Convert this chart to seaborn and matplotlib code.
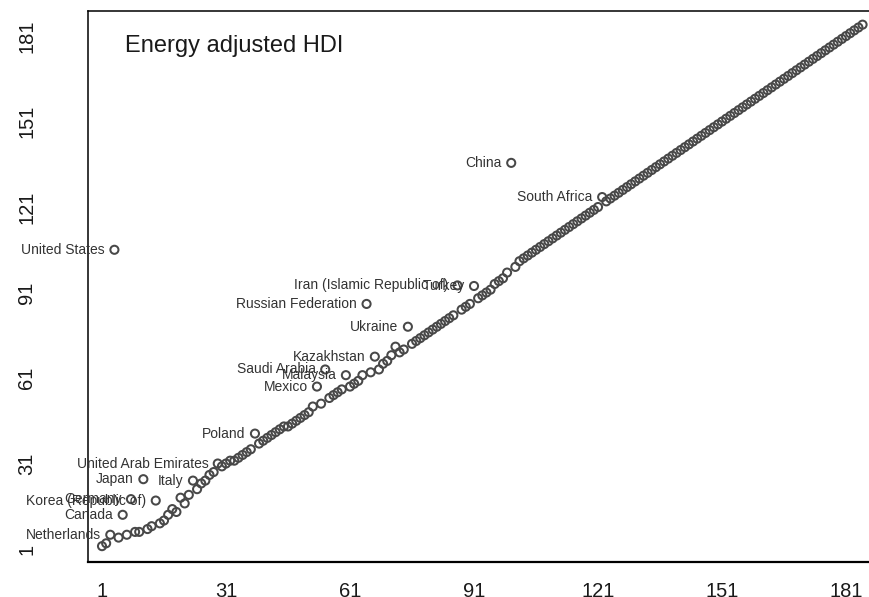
import matplotlib
matplotlib.use("Agg")
import matplotlib.pyplot as plt
import seaborn as sns
import pandas as pd

# HDI rank (x) against energy-adjusted HDI rank (y), unlabelled countries
bulk_hdi_rank = [
    1, 2, 5, 7, 9, 10, 12, 13, 15, 16, 17, 18, 19, 20, 21, 22, 24, 25, 26, 27,
    28, 30, 31, 32, 33, 34, 35, 36, 37, 39, 40, 41, 42, 43, 44, 45, 46, 47, 48,
    49, 50, 51, 52, 54, 56, 57, 58, 59, 61, 62, 63, 64, 66, 68, 69, 70, 71, 72,
    73, 74, 76, 77, 78, 79, 80, 81, 82, 83, 84, 85, 86, 88, 89, 90, 92, 93, 94,
    95, 96, 97, 98, 99, 101, 102,
    103, 104, 105, 106, 107, 108, 109, 110, 111, 112, 113, 114, 115, 116, 117,
    118, 119, 120, 121,
    123, 124, 125, 126, 127, 128, 129, 130, 131, 132, 133, 134, 135, 136, 137,
    138, 139, 140, 141, 142, 143, 144, 145, 146, 147, 148, 149, 150, 151, 152,
    153, 154, 155, 156, 157, 158, 159, 160, 161, 162, 163, 164, 165, 166, 167,
    168, 169, 170, 171, 172, 173, 174, 175, 176, 177, 178, 179, 180, 181, 182,
    183, 184, 185,
]
bulk_energy_rank = [
    2, 3, 5, 6, 7, 7, 8, 9, 10, 11, 13, 15, 14, 19, 17, 20, 22, 24, 25, 27,
    28, 30, 31, 32, 32, 33, 34, 35, 36, 38, 39, 40, 41, 42, 43, 44, 44, 45, 46,
    47, 48, 49, 51, 52, 54, 55, 56, 57, 58, 59, 60, 62, 63, 64, 66, 67, 69, 72,
    70, 71, 73, 74, 75, 76, 77, 78, 79, 80, 81, 82, 83, 85, 86, 87, 89, 90, 91,
    92, 94, 95, 96, 98, 100, 102,
    103, 104, 105, 106, 107, 108, 109, 110, 111, 112, 113, 114, 115, 116, 117,
    118, 119, 120, 121,
    123, 124, 125, 126, 127, 128, 129, 130, 131, 132, 133, 134, 135, 136, 137,
    138, 139, 140, 141, 142, 143, 144, 145, 146, 147, 148, 149, 150, 151, 152,
    153, 154, 155, 156, 157, 158, 159, 160, 161, 162, 163, 164, 165, 166, 167,
    168, 169, 170, 171, 172, 173, 174, 175, 176, 177, 178, 179, 180, 181, 182,
    183, 184, 185,
]

# Countries singled out with a name label
label_names = [
    "United States", "Netherlands", "Canada", "Germany", "Japan",
    "Korea (Republic of)", "Italy", "United Arab Emirates", "Poland", "Mexico",
    "Saudi Arabia", "Malaysia", "Russian Federation", "Kazakhstan", "Ukraine",
    "Iran (Islamic Republic of)", "Turkey", "China", "South Africa",
]
label_hdi_rank = [4, 3, 6, 8, 11, 14, 23, 29, 38, 53, 55, 60, 65, 67, 75, 87, 91, 100, 122]
label_energy_rank = [106, 6, 13, 18.5, 25.5, 18, 25, 31, 41.5, 58, 64, 62, 87, 68.5, 79, 93.5, 93.3, 136.5, 124.5]

rank_ticks = [1, 31, 61, 91, 121, 151, 181]

df = pd.DataFrame({
    "hdi": bulk_hdi_rank + label_hdi_rank,
    "energy": bulk_energy_rank + label_energy_rank,
})

sns.set_style("white")
plt.rcParams["font.family"] = ["Liberation Sans", "DejaVu Sans"]

fig = plt.figure(figsize=(8.69, 5.97), dpi=100)
ax = fig.add_axes([0.10127, 0.05863, 0.9151, 0.92345])

sns.scatterplot(
    data=df, x="hdi", y="energy", ax=ax, marker="o", s=34,
    facecolor="none", edgecolor="#484848", linewidth=1.45, legend=False,
)

for name, hx, ey in zip(label_names, label_hdi_rank, label_energy_rank):
    ax.annotate(
        name, (hx, ey), xytext=(-6.8, 0), textcoords="offset points",
        ha="right", va="center", fontsize=10, color="#333333",
        annotation_clip=False,
    )

ax.text(6.6, 175.3, "Energy adjusted HDI", fontsize=17, ha="left",
        va="baseline", color="#1a1a1a")

ax.set_xlim(-2.39, 190)
ax.set_ylim(-3.56, 189.9)
ax.set_xticks(rank_ticks)
ax.set_yticks(rank_ticks)
ax.set_xlabel("")
ax.set_ylabel("")
ax.tick_params(axis="both", direction="out", length=7.2, width=0.8,
               labelsize=14.5, color="#333333", labelcolor="#1a1a1a")
ax.tick_params(axis="x", pad=7.5)
ax.tick_params(axis="y", pad=30, labelrotation=90)
for lbl in ax.get_yticklabels():
    lbl.set_va("center")

for side, lw in (("left", 1.1), ("bottom", 1.6), ("top", 1.1), ("right", 1.1)):
    ax.spines[side].set_visible(True)
    ax.spines[side].set_linewidth(lw)
    ax.spines[side].set_color("black")

fig.savefig("out.png", dpi=100)
